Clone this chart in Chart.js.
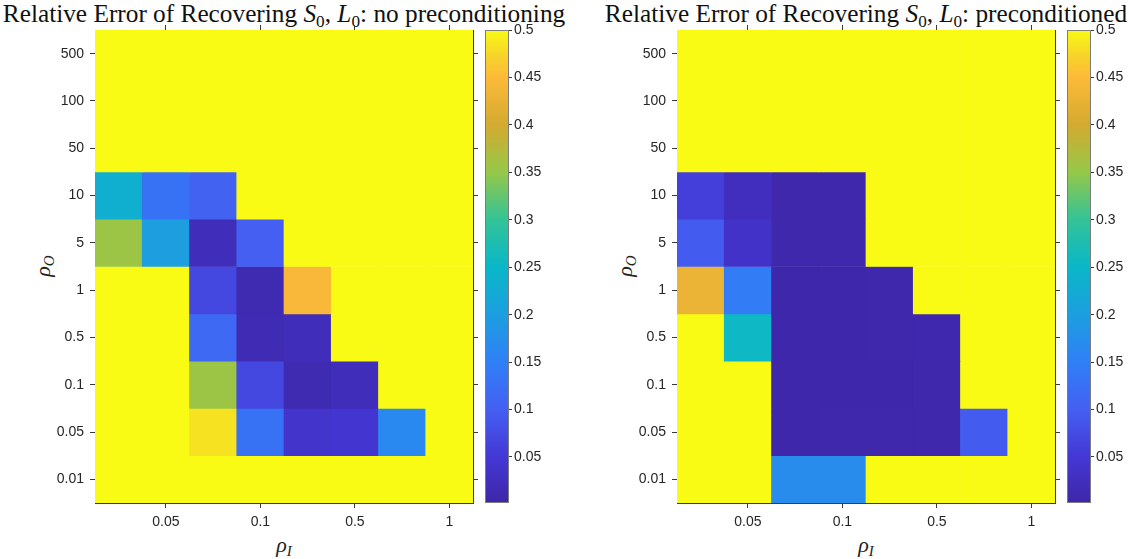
<!DOCTYPE html>
<html>
<head>
<meta charset="utf-8">
<script src="https://cdn.jsdelivr.net/npm/chart.js@4/dist/chart.umd.min.js"></script>
<style>
  html, body { margin: 0; padding: 0; background: #fff; width: 1129px; height: 559px; overflow: hidden; }
  canvas { position: absolute; }
  .title { position: absolute; top: 1px; font-family: "Liberation Serif", "DejaVu Serif", serif; font-size: 25.3px; line-height: 24px; color: #111; text-align: center; white-space: nowrap; }
  .lab { position: absolute; font-family: "Liberation Serif", serif; font-size: 22px; line-height: 22px; color: #222; white-space: nowrap; }
  sub { font-size: 68%; vertical-align: -0.28em; line-height: 0; }
</style>
</head>
<body>
<div class="title" style="left:0px;width:568px;">Relative Error of Recovering <i>S</i><sub>0</sub>, <i>L</i><sub>0</sub>: no preconditioning</div>
<div class="title" style="left:582px;width:568px;">Relative Error of Recovering <i>S</i><sub>0</sub>, <i>L</i><sub>0</sub>: preconditioned</div>
<div class="lab" style="left:43px;top:266px;transform:translate(-50%,-50%) rotate(-90deg);"><i>ρ</i><sub><i>O</i></sub></div>
<div class="lab" style="left:284px;top:545px;transform:translate(-50%,-50%);"><i>ρ</i><sub><i>I</i></sub></div>
<div class="lab" style="left:625px;top:266px;transform:translate(-50%,-50%) rotate(-90deg);"><i>ρ</i><sub><i>O</i></sub></div>
<div class="lab" style="left:866px;top:545px;transform:translate(-50%,-50%);"><i>ρ</i><sub><i>I</i></sub></div>

<canvas id="hmLeft" width="480" height="559" style="left:0px;top:0px;"></canvas>
<canvas id="cbLeft" width="89" height="559" style="left:480px;top:0px;"></canvas>
<canvas id="hmRight" width="478" height="559" style="left:582px;top:0px;"></canvas>
<canvas id="cbRight" width="67" height="559" style="left:1062px;top:0px;"></canvas>

<script>
// ---------- data ----------
const xTickLabels = ['', '0.05', '', '0.1', '', '0.5', '', '1'];           // rho_I columns (only every other labelled)
const yTickLabels = ['500', '100', '50', '10', '5', '1', '0.5', '0.1', '0.05', '0.01']; // rho_O rows, top to bottom

// relative error, rows top (500) to bottom (0.01), columns left to right
const errorNoPrecond = [
  [0.5,   0.5,   0.5,   0.5,   0.5,   0.5,   0.5,   0.5],
  [0.5,   0.5,   0.5,   0.5,   0.5,   0.5,   0.5,   0.5],
  [0.5,   0.5,   0.5,   0.5,   0.5,   0.5,   0.5,   0.5],
  [0.235, 0.13,  0.105, 0.5,   0.5,   0.5,   0.5,   0.5],
  [0.355, 0.2,   0.02,  0.1,   0.5,   0.5,   0.5,   0.5],
  [0.5,   0.5,   0.07,  0.012, 0.445, 0.5,   0.5,   0.5],
  [0.5,   0.5,   0.115, 0.015, 0.02,  0.5,   0.5,   0.5],
  [0.5,   0.5,   0.355, 0.07,  0.012, 0.02,  0.5,   0.5],
  [0.5,   0.5,   0.483, 0.13,  0.04,  0.045, 0.165, 0.5],
  [0.5,   0.5,   0.5,   0.5,   0.5,   0.5,   0.5,   0.5]
];
const errorPrecond = [
  [0.5,   0.5,   0.5,   0.5,   0.5,   0.5,   0.5,   0.5],
  [0.5,   0.5,   0.5,   0.5,   0.5,   0.5,   0.5,   0.5],
  [0.5,   0.5,   0.5,   0.5,   0.5,   0.5,   0.5,   0.5],
  [0.06,  0.025, 0.006, 0.006, 0.5,   0.5,   0.5,   0.5],
  [0.095, 0.035, 0.006, 0.006, 0.5,   0.5,   0.5,   0.5],
  [0.43,  0.145, 0.005, 0.005, 0.006, 0.5,   0.5,   0.5],
  [0.5,   0.255, 0.005, 0.005, 0.006, 0.007, 0.5,   0.5],
  [0.5,   0.5,   0.005, 0.005, 0.005, 0.006, 0.5,   0.5],
  [0.5,   0.5,   0.005, 0.006, 0.006, 0.006, 0.095, 0.5],
  [0.5,   0.5,   0.17,  0.17,  0.5,   0.5,   0.5,   0.5]
];
const colorbarTicks = [0.05, 0.1, 0.15, 0.2, 0.25, 0.3, 0.35, 0.4, 0.45, 0.5];
const colorMin = 0.0015;
const colorMax = 0.5;

// ---------- styling ----------
const cmapStops = [
  [0.0, 62, 38, 168],
  [0.1, 68, 56, 214],
  [0.2, 68, 96, 242],
  [0.3, 47, 128, 246],
  [0.4, 28, 159, 223],
  [0.5, 10, 183, 200],
  [0.6, 52, 195, 150],
  [0.7, 150, 200, 72],
  [0.8, 212, 170, 48],
  [0.9, 253, 186, 58],
  [0.95, 246, 214, 40],
  [1.0, 249, 251, 20]
];
function cmap(v) {
  let t = (v - colorMin) / (colorMax - colorMin);
  t = Math.max(0, Math.min(1, t));
  for (let i = 1; i < cmapStops.length; i++) {
    const a = cmapStops[i - 1], b = cmapStops[i];
    if (t <= b[0]) {
      const f = (t - a[0]) / (b[0] - a[0]);
      const c = [1, 2, 3].map(k => Math.round(a[k] + f * (b[k] - a[k])));
      return `rgb(${c[0]},${c[1]},${c[2]})`;
    }
  }
  const l = cmapStops[cmapStops.length - 1];
  return `rgb(${l[1]},${l[2]},${l[3]})`;
}

Chart.defaults.font.family = '"Liberation Sans", Arial, sans-serif';
Chart.defaults.font.size = 14;
Chart.defaults.color = '#262626';

const axisColor = '#3a3a3a';
const nRows = yTickLabels.length;

function gridOpts() {
  return { display: true, drawOnChartArea: false, drawTicks: true, tickLength: 5, tickColor: axisColor, offset: false, lineWidth: 1 };
}
function rowTicks(scale) {
  scale.ticks = yTickLabels.map((_, r) => ({ value: nRows - 1 - r + 0.5 }));
}
function colTicks(scale) {
  scale.ticks = xTickLabels.map((l, i) => ({ value: i, label: l })).filter(t => t.label !== '');
}

function heatmap(id, matrix) {
  const datasets = matrix.map((row, r) => ({
    data: row.map(() => [nRows - 1 - r, nRows - r]),
    backgroundColor: row.map(v => cmap(v)),
    borderWidth: 0,
    barPercentage: 1,
    categoryPercentage: 1,
    grouped: false
  }));
  const canvasW = document.getElementById(id).width;
  return new Chart(document.getElementById(id), {
    type: 'bar',
    data: { labels: xTickLabels, datasets },
    options: {
      responsive: false, animation: false, devicePixelRatio: 1,
      layout: { padding: { top: 25, left: 0, bottom: 0, right: canvasW - 95 - 378 - 5 } },
      plugins: { legend: { display: false }, tooltip: { enabled: false } },
      scales: {
        x: {
          type: 'category', position: 'bottom', offset: true,
          grid: gridOpts(),
          border: { display: true, color: axisColor, width: 1 },
          ticks: { padding: 6, maxRotation: 0, autoSkip: false, callback: (v) => xTickLabels[v] },
          afterBuildTicks: colTicks,
          afterFit: (s) => { s.height = 56; }
        },
        x2: {
          type: 'category', position: 'top', offset: true,
          grid: gridOpts(),
          border: { display: true, color: axisColor, width: 1 },
          ticks: { display: false },
          afterBuildTicks: colTicks,
          afterFit: (s) => { s.height = 5; }
        },
        y: {
          type: 'linear', position: 'left', min: 0, max: nRows,
          grid: gridOpts(),
          border: { display: true, color: axisColor, width: 1 },
          ticks: { padding: 6, callback: (v) => yTickLabels[nRows - 1 - Math.floor(v)] },
          afterBuildTicks: rowTicks,
          afterFit: (s) => { s.width = 95; }
        },
        y2: {
          type: 'linear', position: 'right', min: 0, max: nRows,
          grid: gridOpts(),
          border: { display: true, color: axisColor, width: 1 },
          ticks: { display: false },
          afterBuildTicks: rowTicks,
          afterFit: (s) => { s.width = 5; }
        }
      }
    }
  });
}

function colorbar(id, axisW) {
  return new Chart(document.getElementById(id), {
    type: 'bar',
    data: {
      labels: ['cb'],
      datasets: [{
        data: [[colorMin, colorMax]],
        backgroundColor: (ctx) => {
          const ch = ctx.chart;
          if (!ch.chartArea) return null;
          const ys = ch.scales.y;
          const g = ch.ctx.createLinearGradient(0, ys.getPixelForValue(colorMin), 0, ys.getPixelForValue(colorMax));
          cmapStops.forEach(s => g.addColorStop(s[0], `rgb(${s[1]},${s[2]},${s[3]})`));
          return g;
        },
        borderWidth: 1,
        borderColor: '#7d7d7d',
        borderSkipped: false,
        barPercentage: 1,
        categoryPercentage: 1,
        inflateAmount: 0
      }]
    },
    options: {
      responsive: false, animation: false, devicePixelRatio: 1,
      layout: { padding: { top: 30, left: 5, bottom: 56, right: 0 } },
      plugins: { legend: { display: false }, tooltip: { enabled: false } },
      scales: {
        x: { display: false },
        y: {
          type: 'linear', position: 'right', min: colorMin, max: colorMax,
          grid: { display: true, drawOnChartArea: false, drawTicks: true, tickLength: 3, tickColor: axisColor },
          border: { display: false },
          ticks: { padding: 2, callback: (v) => String(v) },
          afterBuildTicks: (s) => { s.ticks = colorbarTicks.map(v => ({ value: v })); },
          afterFit: (s) => { s.width = axisW; }
        }
      }
    }
  });
}

heatmap('hmLeft', errorNoPrecond);
heatmap('hmRight', errorPrecond);
colorbar('cbLeft', 60);
colorbar('cbRight', 38);
</script>
</body>
</html>
